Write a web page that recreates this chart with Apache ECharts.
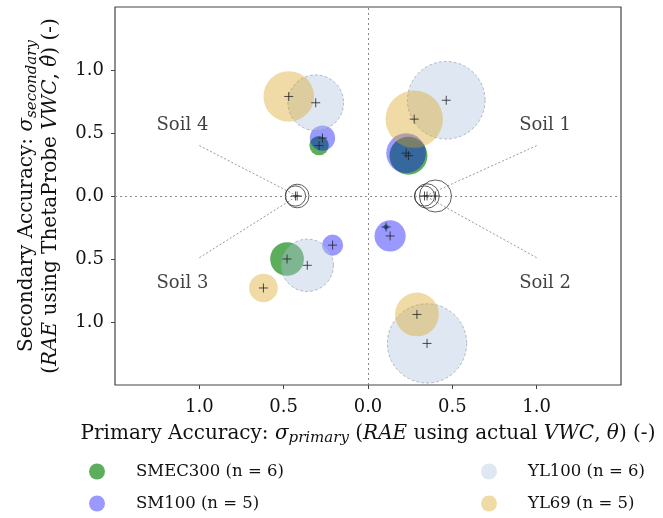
<!DOCTYPE html>
<html>
<head>
<meta charset="utf-8">
<script src="https://cdn.jsdelivr.net/npm/echarts@6/dist/echarts.min.js"></script>
<style>
  html, body { margin: 0; padding: 0; background: #fff; }
  #chart { width: 663px; height: 518px; }
</style>
</head>
<body>
<div id="chart"></div>
<script>
// [primary, secondary, bubble diameter] in axis units, signed by quadrant (Soil 1 .. Soil 4)
const smec300 = [[0.24, 0.32, 0.225], [-0.29, 0.40, 0.115], [-0.48, -0.50, 0.20], [0.107, -0.246, 0.03]]
const sm100 = [[0.226, 0.34, 0.235], [-0.27, 0.46, 0.15], [-0.21, -0.39, 0.125], [0.131, -0.317, 0.185]]
const yl100 = [[0.464, 0.76, 0.46], [-0.31, 0.74, 0.33], [-0.36, -0.55, 0.31], [0.35, -1.17, 0.47]]
const yl69 = [[0.274, 0.61, 0.34], [-0.47, 0.79, 0.30], [-0.62, -0.73, 0.17], [0.29, -0.94, 0.26]]
// soil-level markers on the zero line
const soilMarks = [[0.335, 0, 0.12], [0.35, 0, 0.145], [0.40, 0, 0.19], [-0.42, 0, 0.14], [-0.43, 0, 0.12]]
const soilNames = ['Soil 1', 'Soil 2', 'Soil 3', 'Soil 4']
const soilLabelPos = [[1.05, 0.56], [1.05, -0.69], [-1.10, -0.69], [-1.10, 0.56]]
const soilLeaders = [[[1.0, 0.40], [0.34, 0]], [[1.0, -0.49], [0.34, 0]], [[-1.0, -0.49], [-0.42, 0]], [[-1.0, 0.40], [-0.42, 0]]]
const tickValues = [-1, -0.5, 0, 0.5, 1]

const FONT = 'DejaVu Serif'
const gridLeft = 115
const gridRight = 42
const unitPx = (663 - gridLeft - gridRight) / 3

const chart = echarts.init(document.getElementById('chart'))

const bubbleSize = val => val[2] * unitPx
const absLabel = v => Math.abs(v).toFixed(1)

function bubble(name, data, fill, border, dashed) {
  return {
    name: name,
    type: 'scatter',
    data: data,
    symbolSize: bubbleSize,
    itemStyle: {
      color: fill,
      borderColor: border,
      borderWidth: border ? 1 : 0,
      borderType: dashed ? [3, 2] : 'solid'
    },
    emphasis: { disabled: true },
    z: 2
  }
}

const richText = {
  n: { fontFamily: FONT, fontSize: 20, color: '#111' },
  i: { fontFamily: FONT, fontSize: 20, fontStyle: 'italic', color: '#111' },
  s: { fontFamily: FONT, fontSize: 15, fontStyle: 'italic', color: '#111', padding: [10, 0, 0, 0] }
}

const axisCommon = {
  type: 'value',
  min: -1.5,
  max: 1.5,
  interval: 0.5,
  nameLocation: 'middle',
  axisLine: { show: false, onZero: false },
  axisTick: { show: true, inside: false, length: 4, customValues: tickValues, lineStyle: { color: '#444' } },
  splitLine: { show: false }
}

const legendCommon = {
  top: 458,
  orient: 'vertical',
  itemGap: 15,
  itemWidth: 16,
  itemHeight: 16,
  icon: 'circle',
  itemStyle: { borderWidth: 0 },
  textStyle: { fontFamily: FONT, fontSize: 16.5, color: '#111', padding: [0, 0, 0, 26] }
}

const allPoints = smec300.concat(sm100, yl100, yl69, soilMarks)

chart.setOption({
  animation: false,
  backgroundColor: '#fff',
  grid: {
    left: gridLeft,
    right: gridRight,
    top: 7,
    bottom: 133,
    show: true,
    borderColor: '#444',
    borderWidth: 1.2,
    outerBoundsMode: 'none'
  },
  xAxis: Object.assign({}, axisCommon, {
    name: '{n|Primary Accuracy: }{i|σ}{s|primary}{n| (}{i|RAE}{n| using actual }{i|VWC}{n|, }{i|θ}{n|) (-)}',
    nameGap: 36,
    nameTextStyle: { rich: richText },
    axisLabel: { customValues: tickValues, formatter: absLabel, fontFamily: FONT, fontSize: 18, color: '#111', margin: 13 }
  }),
  yAxis: Object.assign({}, axisCommon, {
    name: '{n|Secondary Accuracy: }{i|σ}{s|secondary}\n{n|(}{i|RAE}{n| using ThetaProbe }{i|VWC}{n|, }{i|θ̂}{n|) (-)}',
    nameRotate: 90,
    nameGap: 52,
    nameTextStyle: { rich: richText, lineHeight: 24 },
    axisLabel: { customValues: tickValues, formatter: absLabel, fontFamily: FONT, fontSize: 18, color: '#111', margin: 11 }
  }),
  legend: [
    Object.assign({}, legendCommon, { left: 84, data: ['SMEC300 (n = 6)', 'SM100 (n = 5)'] }),
    Object.assign({}, legendCommon, { left: 476, data: ['YL100 (n = 6)', 'YL69 (n = 5)'] })
  ],
  series: [
    {
      name: 'leaders',
      type: 'lines',
      coordinateSystem: 'cartesian2d',
      data: soilLeaders.map(c => ({ coords: c })),
      lineStyle: { color: '#999', width: 1, type: [2, 2], opacity: 1 },
      silent: true,
      z: 1
    },
    {
      name: 'soil labels',
      type: 'scatter',
      data: soilNames.map((n, k) => ({ name: n, value: soilLabelPos[k] })),
      symbolSize: 0,
      label: { show: true, position: 'inside', formatter: p => p.name, fontFamily: FONT, fontSize: 18, color: '#111' },
      silent: true,
      z: 1
    },
    {
      name: 'soil marks',
      type: 'scatter',
      data: soilMarks,
      symbolSize: bubbleSize,
      itemStyle: { color: 'rgba(0,0,0,0)', borderColor: '#333', borderWidth: 1 },
      silent: true,
      markLine: {
        silent: true,
        symbol: 'none',
        label: { show: false },
        lineStyle: { color: '#888', type: [2, 3], width: 1 },
        data: [{ xAxis: 0 }, { yAxis: 0 }]
      },
      z: 1
    },
    bubble('SMEC300 (n = 6)', smec300, 'rgba(0,128,0,0.8)', null, false),
    bubble('SM100 (n = 5)', sm100, 'rgba(0,0,255,0.5)', null, false),
    bubble('YL100 (n = 6)', yl100, 'rgba(176,196,222,0.5)', 'rgba(140,150,165,0.8)', true),
    bubble('YL69 (n = 5)', yl69, 'rgba(218,165,32,0.5)', null, false),
    {
      name: 'centres',
      type: 'scatter',
      data: allPoints.map(p => [p[0], p[1]]),
      symbol: 'path://M0,5L10,5M5,0L5,10',
      symbolSize: 9,
      itemStyle: { color: 'rgba(0,0,0,0)', borderColor: '#222', borderWidth: 1 },
      silent: true,
      z: 5
    }
  ]
})
</script>
</body>
</html>
